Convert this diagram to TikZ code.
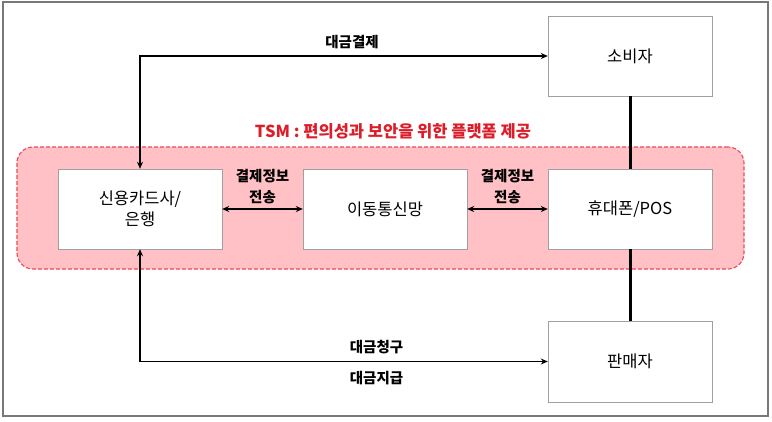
\documentclass[tikz,border=0pt]{standalone}
\usepackage{fontspec}
\setmainfont{Noto Sans CJK KR}
\usetikzlibrary{arrows.meta}
\definecolor{tsmred}{RGB}{220,30,42}
\definecolor{tsmfill}{RGB}{255,192,198}
\definecolor{tsmedge}{RGB}{236,72,84}
\definecolor{boxgray}{RGB}{160,160,160}
\definecolor{framegray}{RGB}{120,120,120}

\begin{document}
\begin{tikzpicture}[x=1pt, y=-1pt, >={Stealth[length=7pt, width=6pt]}, every node/.style={align=center},
  unit/.style={draw=boxgray, fill=white, rectangle, minimum width=164pt, minimum height=80pt, font=\fontsize{16.5}{21}\selectfont},
  tag/.style={font=\bfseries\fontsize{14.5}{21}\selectfont},
  link/.style={line width=1.8pt},
  tie/.style={line width=3pt}]

\useasboundingbox (0,0) rectangle (772,421);
\draw[framegray, line width=1.2pt] (3,2) rectangle (768,416);

% TSM platform
\node[draw=tsmedge, fill=tsmfill, line width=1.1pt, dash pattern=on 4pt off 2pt, rounded corners=16pt, minimum width=727pt, minimum height=122pt] (platform) at (380.5,208) {};
\node[font=\bfseries\fontsize{16.5}{20}\selectfont, text=tsmred] (tsmlabel) at (393,131) {TSM : 편의성과 보안을 위한 플랫폼 제공};

% Nodes
\node[unit] (consumer) at (630,56) {소비자};
\node[unit] (card) at (140,209) {신용카드사/\\은행};
\node[unit] (network) at (385,209) {이동통신망};
\node[unit] (phone) at (630,209) {휴대폰/POS};
\node[unit, minimum height=81pt] (seller) at (630,361.5) {판매자};

% Edges
\draw[link, <->] (card.north) |- (consumer.west) node[tag, pos=0.76, above=3pt] (pay) {대금결제};
\draw[link, <->] (card.south) |- (seller.west)
  node[tag, pos=0.79, above=3pt] (claim) {대금청구}
  node[tag, pos=0.79, below=6pt] (settle) {대금지급};
\draw[link, <->] (card.east) -- (network.west) node[tag, midway, above=1pt] (info1) {결제정보\\전송};
\draw[link, <->] (network.east) -- (phone.west) node[tag, midway, above=1pt] (info2) {결제정보\\전송};
\draw[tie] (consumer.south) -- (phone.north);
\draw[tie] (phone.south) -- (seller.north);

\end{tikzpicture}
\end{document}
